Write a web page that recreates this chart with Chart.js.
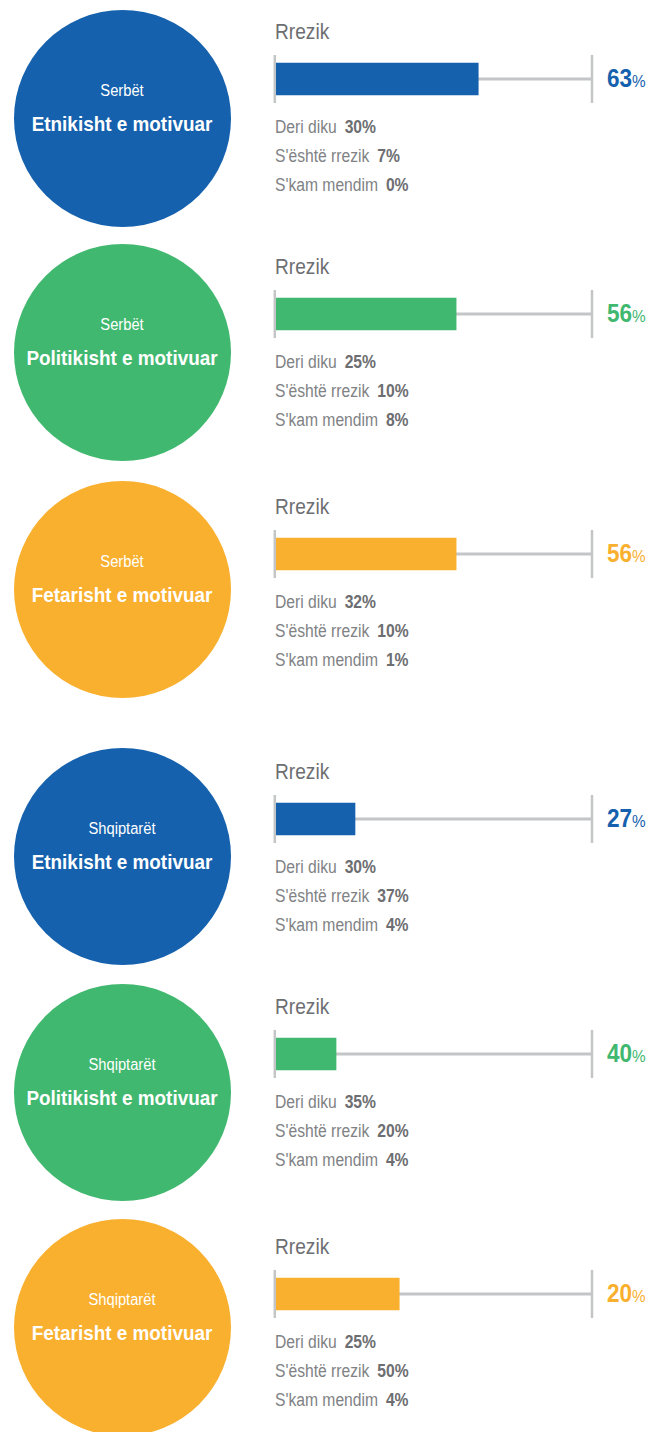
<!DOCTYPE html>
<html>
<head>
<meta charset="utf-8">
<script src="https://cdn.jsdelivr.net/npm/chart.js"></script>
<style>
  html, body { margin: 0; padding: 0; background: #fff; }
  body { width: 665px; height: 1432px; position: relative; overflow: hidden;
         font-family: "Liberation Sans", Arial, sans-serif; }
  .abs { position: absolute; white-space: nowrap; line-height: 0; }
  .circle { position: absolute; border-radius: 50%; }
  .sub { color: #fff; font-size: 16px; text-align: center; }
  .ttl { color: #fff; font-size: 21px; font-weight: bold; text-align: center; }
  .rrezik { color: #6d6e71; font-size: 22.5px; }
  .stat { color: #808285; font-size: 18px; }
  .stat b { color: #6d6e71; margin-left: 4px; }
  .val { font-size: 25px; font-weight: bold; }
  .val span { font-size: 17px; font-weight: normal; }
  .bar { position: absolute; width: 336px; height: 48px; }
</style>
</head>
<body>
<script>
// data
const groups = ["Serbët", "Serbët", "Serbët", "Shqiptarët", "Shqiptarët", "Shqiptarët"];
const motives = ["Etnikisht e motivuar", "Politikisht e motivuar", "Fetarisht e motivuar",
                 "Etnikisht e motivuar", "Politikisht e motivuar", "Fetarisht e motivuar"];
const barTitle = "Rrezik";
const rrezikLabels = [63, 56, 56, 27, 40, 20];   // numbers printed next to the bars
const rrezikBars = [64, 57, 57, 25, 19, 39];     // bar lengths as drawn in the source
const statLabels = ["Deri diku", "S'është rrezik", "S'kam mendim"];
const deriDiku = [30, 25, 32, 30, 35, 25];
const nukEshte = [7, 10, 10, 37, 20, 50];
const paMendim = [0, 8, 1, 4, 4, 4];

const colors = ["#1561ad", "#41b86f", "#f9b02f", "#1561ad", "#41b86f", "#f9b02f"];
const barCenters = [79, 314, 554, 819, 1054, 1294];
const circleCenters = [118, 352, 589, 856, 1092, 1327];

// Liberation Sans squeezed horizontally to fake the condensed face of the original
function addText(cls, html, left, baseline, size, squeeze, center, color) {
    const d = document.createElement('div');
    d.className = 'abs ' + cls;
    d.innerHTML = html;
    d.style.top = (baseline - size * 0.35) + 'px';
    if (center) {
        d.style.left = (left - 150) + 'px';
        d.style.width = '300px';
        d.style.transformOrigin = '150px 0';
    } else {
        d.style.left = left + 'px';
        d.style.transformOrigin = '0 0';
    }
    d.style.transform = 'scaleX(' + squeeze + ')';
    if (color) d.style.color = color;
    document.body.appendChild(d);
}

// gray track line with end ticks behind the bar
const trackPlugin = {
    id: 'track',
    beforeDatasetsDraw(chart) {
        const { ctx, chartArea, scales } = chart;
        const x0 = scales.x.getPixelForValue(0);
        const x1 = scales.x.getPixelForValue(100);
        const y = scales.y.getPixelForValue(0);
        ctx.save();
        ctx.strokeStyle = '#c4c5c7';
        ctx.lineWidth = 3;
        ctx.beginPath();
        ctx.moveTo(x0, y);
        ctx.lineTo(x1, y);
        ctx.stroke();
        ctx.lineWidth = 2.5;
        ctx.beginPath();
        ctx.moveTo(x0 - 1.2, chartArea.top);
        ctx.lineTo(x0 - 1.2, chartArea.bottom);
        ctx.moveTo(x1, chartArea.top);
        ctx.lineTo(x1, chartArea.bottom);
        ctx.stroke();
        ctx.restore();
    }
};

for (let i = 0; i < groups.length; i++) {
    const cy = circleCenters[i];
    const by = barCenters[i];

    const c = document.createElement('div');
    c.className = 'circle';
    c.style.background = colors[i];
    c.style.left = (122 - 108.5) + 'px';
    c.style.top = (cy - 108.5) + 'px';
    c.style.width = '217px';
    c.style.height = '217px';
    document.body.appendChild(c);

    addText('sub', groups[i], 122, cy - 21, 16, 0.92, true);
    addText('ttl', motives[i], 122, cy + 13, 21, 0.9, true);

    addText('rrezik', barTitle, 275, by - 39, 22.5, 0.85);

    const box = document.createElement('div');
    box.className = 'bar';
    box.style.left = '266px';
    box.style.top = (by - 24) + 'px';
    const cv = document.createElement('canvas');
    box.appendChild(cv);
    document.body.appendChild(box);

    new Chart(cv, {
        type: 'bar',
        data: {
            labels: [barTitle],
            datasets: [{
                data: [rrezikBars[i]],
                backgroundColor: colors[i],
                barThickness: 32,
                borderWidth: 0
            }]
        },
        options: {
            indexAxis: 'y',
            responsive: true,
            maintainAspectRatio: false,
            animation: false,
            layout: { padding: { left: 10, right: 10, top: 0, bottom: 0 } },
            scales: {
                x: { min: 0, max: 100, display: false },
                y: { display: false }
            },
            plugins: { legend: { display: false }, tooltip: { enabled: false } }
        },
        plugins: [trackPlugin]
    });

    addText('val', rrezikLabels[i] + '<span>%</span>', 607, by + 8, 25, 0.9, false, colors[i]);
    addText('stat', statLabels[0] + ' <b>' + deriDiku[i] + '%</b>', 275, by + 54, 18, 0.87);
    addText('stat', statLabels[1] + ' <b>' + nukEshte[i] + '%</b>', 275, by + 83, 18, 0.87);
    addText('stat', statLabels[2] + ' <b>' + paMendim[i] + '%</b>', 275, by + 112, 18, 0.87);
}
</script>
</body>
</html>
